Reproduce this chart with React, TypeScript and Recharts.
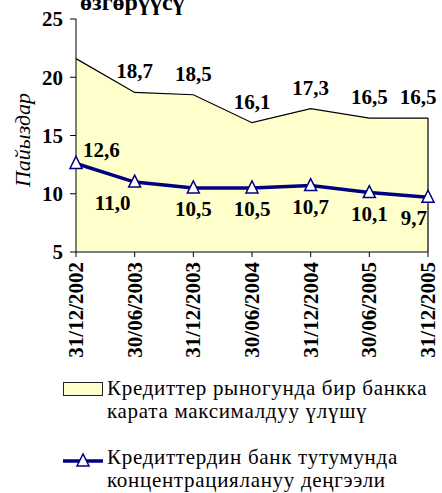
import React from 'react';
import { ComposedChart, Area, Line, XAxis, YAxis, LabelList, ReferenceLine } from 'recharts';

const categories = ['31/12/2002', '30/06/2003', '31/12/2003', '30/06/2004', '31/12/2004', '30/06/2005', '31/12/2005'];
const maxShare = [21.6, 18.7, 18.5, 16.1, 17.3, 16.5, 16.5];
const concentration = [12.6, 11.0, 10.5, 10.5, 10.7, 10.1, 9.7];
const yTicks = [5, 10, 15, 20, 25];

const titleText = 'өзгөрүүсү';
const yLabel = 'Пайыздар';
const areaName = ['Кредиттер рыногунда бир банкка', 'карата максималдуу үлүшү'];
const lineName = ['Кредиттердин банк тутумунда', 'концентрациялануу деңгээли'];

const data = categories.map((date, i) => ({ date, share: maxShare[i], conc: concentration[i] }));

const FONT = '"Liberation Serif", "Times New Roman", serif';
const NAVY = '#000080';
const FILL = '#FFFFCC';

const fmt = (v: number) => v.toFixed(1).replace('.', ',');

const XTick = (props: any) => {
  const { x, y, payload } = props;
  return (
    <text
      x={x}
      y={y}
      transform={`rotate(-90, ${x}, ${y})`}
      dx={-3}
      dy={7}
      textAnchor="end"
      fontFamily={FONT}
      fontWeight="bold"
      fontSize={21}
      fill="#000"
    >
      {payload.value}
    </text>
  );
};

const AreaLabel = (props: any) => {
  const { x, y, value, index } = props;
  if (index === 0) return null;
  const lx = index === categories.length - 1 ? x - 10 : x;
  return (
    <text x={lx} y={y - 14} textAnchor="middle" fontFamily={FONT} fontWeight="bold" fontSize={21} fill="#000">
      {fmt(value)}
    </text>
  );
};

const LineLabel = (props: any) => {
  const { x, y, value, index } = props;
  let lx = x;
  let ly = y + 28;
  let anchor: 'start' | 'middle' | 'end' = 'middle';
  if (index === 0) {
    lx = x + 7;
    ly = y - 6;
    anchor = 'start';
  } else if (index === categories.length - 1) {
    lx = x - 1;
    anchor = 'end';
  } else if (index === 1) {
    lx = x - 22;
  }
  return (
    <text x={lx} y={ly} textAnchor={anchor} fontFamily={FONT} fontWeight="bold" fontSize={21} fill="#000">
      {fmt(value)}
    </text>
  );
};

const Triangle = (props: any) => {
  const { cx, cy } = props;
  if (cx == null || cy == null) return null;
  return (
    <polygon
      points={`${cx},${cy - 7} ${cx - 6},${cy + 5} ${cx + 6},${cy + 5}`}
      fill="#fff"
      stroke={NAVY}
      strokeWidth={1.5}
    />
  );
};

const YTitle = () => (
  <text
    x={22}
    y={140}
    transform="rotate(-90, 22, 140)"
    textAnchor="middle"
    dominantBaseline="central"
    fontFamily={FONT}
    fontStyle="italic"
    fontSize={22}
    fill="#000"
  >
    {yLabel}
  </text>
);

const legendLine: React.CSSProperties = {
  position: 'absolute',
  left: 107,
  fontFamily: FONT,
  fontSize: 21,
  letterSpacing: 0.7,
  lineHeight: '23px',
  color: '#000',
  whiteSpace: 'nowrap',
};

export default function App() {
  const last = categories[categories.length - 1];
  return (
    <div style={{ position: 'absolute', left: 0, top: 0, width: 442, height: 493, background: '#fff', overflow: 'hidden' }}>
      <div
        style={{
          position: 'absolute',
          left: 80,
          top: -10,
          fontFamily: FONT,
          fontWeight: 'bold',
          fontSize: 24,
          lineHeight: '24px',
        }}
      >
        {titleText}
      </div>
      <ComposedChart width={442} height={372} data={data} margin={{ top: 19, right: 14, left: 0, bottom: 0 }}>
        <XAxis
          dataKey="date"
          scale="point"
          interval={0}
          height={120}
          tick={<XTick />}
          axisLine={{ stroke: '#000' }}
          tickLine={{ stroke: '#000' }}
          tickSize={5}
        />
        <YAxis
          domain={[5, 25]}
          ticks={yTicks}
          width={76}
          tickSize={6}
          tickMargin={7}
          axisLine={{ stroke: '#000' }}
          tickLine={{ stroke: '#000' }}
          tick={{ fontFamily: FONT, fontWeight: 'bold', fontSize: 21, fill: '#000' }}
          label={{ content: () => <YTitle /> }}
        />
        <Area
          type="linear"
          dataKey="share"
          fill={FILL}
          fillOpacity={1}
          stroke="#000"
          strokeWidth={1.2}
          isAnimationActive={false}
          dot={false}
          activeDot={false}
        >
          <LabelList dataKey="share" content={<AreaLabel />} />
        </Area>
        <ReferenceLine
          segment={[{ x: last, y: 5 }, { x: last, y: maxShare[maxShare.length - 1] }]}
          stroke="#000"
          strokeWidth={1.2}
          ifOverflow="visible"
        />
        <Line
          type="linear"
          dataKey="conc"
          stroke={NAVY}
          strokeWidth={3.5}
          dot={<Triangle />}
          activeDot={false}
          isAnimationActive={false}
        >
          <LabelList dataKey="conc" content={<LineLabel />} />
        </Line>
      </ComposedChart>

      <div
        style={{
          position: 'absolute',
          left: 63,
          top: 382,
          width: 40,
          height: 14,
          background: FILL,
          border: '1.5px solid #222',
          boxSizing: 'border-box',
        }}
      />
      <div style={{ ...legendLine, top: 377 }}>{areaName[0]}</div>
      <div style={{ ...legendLine, top: 400 }}>{areaName[1]}</div>

      <svg width={42} height={20} style={{ position: 'absolute', left: 62, top: 451 }}>
        <line x1={1} y1={10} x2={41} y2={10} stroke={NAVY} strokeWidth={3.5} />
        <polygon points="21,3 15,15 27,15" fill="#fff" stroke={NAVY} strokeWidth={1.5} />
      </svg>
      <div style={{ ...legendLine, top: 446 }}>{lineName[0]}</div>
      <div style={{ ...legendLine, top: 469 }}>{lineName[1]}</div>
    </div>
  );
}
